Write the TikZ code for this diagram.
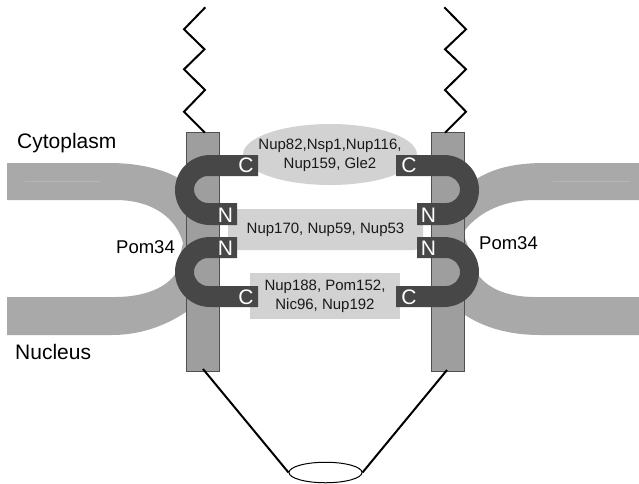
\documentclass[tikz,border=0pt]{standalone}
\usepackage{fontspec}
\setmainfont{Liberation Sans}
\usetikzlibrary{shapes.geometric}
\definecolor{bandgray}{HTML}{A9A9A9}
\definecolor{wallgray}{HTML}{9E9E9E}
\definecolor{walledge}{HTML}{505050}
\definecolor{hookgray}{HTML}{474747}
\definecolor{halogray}{HTML}{D2D2D2}
\definecolor{sheen}{HTML}{B6B6B6}
\tikzset{
  band/.style={fill=bandgray,draw=none},
  wall/.style={fill=wallgray,draw=walledge,line width=0.8pt},
  hook/.style={fill=hookgray,draw=none},
  halo/.style={fill=halogray,draw=none},
  spoke/.style={draw=black,line width=2pt,line join=miter},
  stem/.style={draw=black,line width=2pt},
  region/.style={font=\fontsize{21}{21}\selectfont,inner sep=0pt},
  protein/.style={font=\fontsize{18.5}{20}\selectfont,inner sep=0pt},
  nup/.style={font=\fontsize{15}{19}\selectfont,inner sep=0pt,align=center,text=black!90},
  term/.style={font=\fontsize{21}{21}\selectfont,inner sep=0pt,text=white},
}
\begin{document}
\begin{tikzpicture}[x=1pt,y=-1pt]
\useasboundingbox (0,0) rectangle (639,483);

% membrane sheets, left and right
\path[band] (7,163) -- (110,163) .. controls (140,163) and (165,170) .. (178,178)
  -- (200,200) -- (200,310) -- (186,312)
  .. controls (165,326) and (140,335) .. (112,335) -- (7,335) -- (7,297) -- (115,297)
  .. controls (140,297) and (165,290) .. (176,273) -- (183,243)
  .. controls (177,220) and (155,200) .. (115,200) -- (7,200) -- cycle;
\path[band] (639,163) -- (545,163) .. controls (515,163) and (495,168) .. (478,178)
  -- (450,200) -- (450,310) -- (465,315)
  .. controls (485,328) and (510,335) .. (540,335) -- (639,335) -- (639,297) -- (535,297)
  .. controls (510,297) and (490,290) .. (479,276) -- (463,233)
  .. controls (475,215) and (500,200) .. (535,200) -- (639,200) -- cycle;
\draw[sheen,line width=0.5pt] (25,181) -- (100,181);
\draw[sheen,line width=0.5pt] (553,181) -- (630,181);

% nuclear pore walls
\path[wall] (186,132) rectangle (219,371);
\path[wall] (431,132) rectangle (464,371);

% nucleoporin groups
\node[halo,ellipse,minimum width=174pt,minimum height=61pt,inner sep=0pt] (upperhalo) at (330,154.5) {};
\path[halo,rounded corners=9pt] (228,209) rectangle (423,250);
\path[halo] (250,273) rectangle (400,319);

% curved Pom34 domains, left side
\path[hook] (258,155) -- (210,155) arc[start angle=90,end angle=270,x radius=35pt,y radius=35pt]
  -- (237,225) -- (237,203) -- (208,203)
  arc[start angle=270,end angle=90,x radius=14pt,y radius=13.5pt] -- (258,176) -- cycle;
\path[hook] (237,237) -- (210,237) arc[start angle=90,end angle=270,x radius=35pt,y radius=35pt]
  -- (258,307) -- (258,286) -- (208,286)
  arc[start angle=270,end angle=90,x radius=14pt,y radius=14pt] -- (237,258) -- cycle;
% curved Pom34 domains, right side
\path[hook] (396,155) -- (444,155) arc[start angle=90,end angle=-90,x radius=35pt,y radius=35pt]
  -- (417,225) -- (417,203) -- (446,203)
  arc[start angle=-90,end angle=90,x radius=14pt,y radius=13.5pt] -- (396,176) -- cycle;
\path[hook] (417,237) -- (444,237) arc[start angle=90,end angle=-90,x radius=35pt,y radius=35pt]
  -- (396,307) -- (396,286) -- (446,286)
  arc[start angle=-90,end angle=90,x radius=14pt,y radius=14pt] -- (417,258) -- cycle;

% terminus letters
\node[term] (c1) at (246,165.5) {C};
\node[term] (n1) at (225.5,215) {N};
\node[term] (n2) at (225.5,248) {N};
\node[term] (c2) at (246,297) {C};
\node[term] (c3) at (409,165.5) {C};
\node[term] (n3) at (428.5,215) {N};
\node[term] (n4) at (428.5,248) {N};
\node[term] (c4) at (409,297) {C};

% labels
\node[region,anchor=west] (cyto) at (17,143.5) {Cytoplasm};
\node[region,anchor=west] (nucl) at (15,351.5) {Nucleus};
\node[protein,anchor=west] (pomL) at (116,247) {Pom34};
\node[protein,anchor=west] (pomR) at (479,243) {Pom34};
\node[nup] (g1) at (330,155) {Nup82,Nsp1,Nup116,\\Nup159, Gle2};
\node[nup] (g2) at (325.5,229.5) {Nup170, Nup59, Nup53};
\node[nup] (g3) at (325,296) {Nup188, Pom152,\\Nic96, Nup192};

% cytoplasmic filaments
\coordinate (lt0) at (205.3,7.3);
\coordinate (lt1) at (184,29.3);
\coordinate (lt2) at (204.5,49.3);
\coordinate (lt3) at (184,69.3);
\coordinate (lt4) at (205,90);
\coordinate (lt5) at (184,111.7);
\coordinate (lt6) at (205,132.7);
\draw[spoke] (lt0) -- (lt1) -- (lt2) -- (lt3) -- (lt4) -- (lt5) -- (lt6);
\coordinate (rt0) at (444.3,7.3);
\coordinate (rt1) at (466,29.3);
\coordinate (rt2) at (445,49.3);
\coordinate (rt3) at (466,69.3);
\coordinate (rt4) at (445,90);
\coordinate (rt5) at (466,111.7);
\coordinate (rt6) at (445,132.7);
\draw[spoke] (rt0) -- (rt1) -- (rt2) -- (rt3) -- (rt4) -- (rt5) -- (rt6);

% nuclear basket
\node[ellipse,draw=black,line width=1pt,fill=white,minimum width=73pt,minimum height=20.5pt,inner sep=0pt] (ring) at (325.5,472.5) {};
\coordinate (lb) at (203,369);
\coordinate (rb) at (447,370);
\draw[stem] (lb) -- (ring.west);
\draw[stem] (rb) -- (ring.east);
\end{tikzpicture}
\end{document}
